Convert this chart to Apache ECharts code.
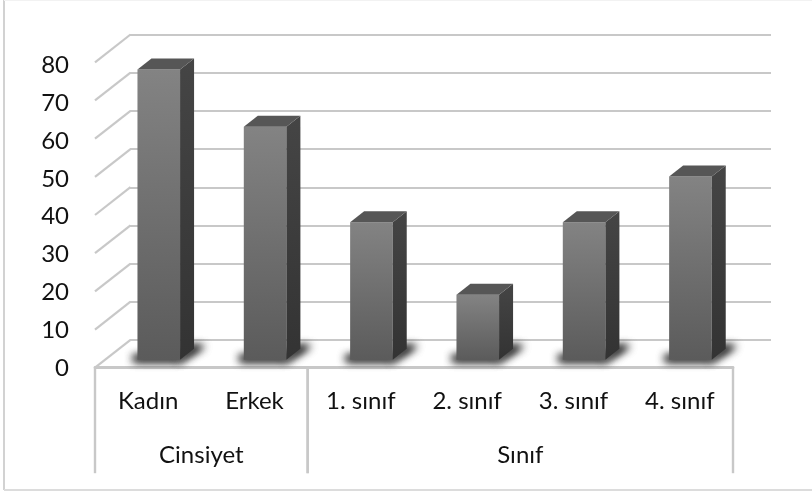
<!DOCTYPE html>
<html><head><meta charset="utf-8">
<style>html,body{margin:0;padding:0;background:#fff}#c{width:812px;height:494px}</style>
<script src="https://cdn.jsdelivr.net/npm/echarts@6/dist/echarts.min.js"></script>
</head><body><div id="c"></div>
<script>
const categories = ['Kadın','Erkek','1. sınıf','2. sınıf','3. sınıf','4. sınıf'];
const values = [76, 61, 36, 17, 36, 48];
const groupNames = ['Cinsiyet','Sınıf'];
const groupStart = [0, 2];
const groupSpan = [2, 4];
const ticks = [0,10,20,30,40,50,60,70,80];

const FONT = 'Lato';
const LINE = '#c8c8c8';
const chart = echarts.init(document.getElementById('c'), null, {renderer:'canvas', devicePixelRatio:1});
const DX = 10.6, DY = -8;      // bars stand mid-way in the floor depth
const BW = 42.6, BDX = 14, BDY = -11;
const OFF = 1500;              // the floor shadow is cast from a shape outside the canvas

function renderBar(p, api){
  const i = api.value(0), v = api.value(1);
  const top = api.coord([i, v]), base = api.coord([i, 0]);
  const l = top[0] + DX - BW/2, r = l + BW, t = top[1] + DY, b = base[1] + DY;
  const poly = (pts, fill, extra) => ({type:'polygon', shape:{points:pts}, style:Object.assign({fill}, extra||{})});
  const grad = (a, c) => new echarts.graphic.LinearGradient(0,0,0,1,[{offset:0,color:a},{offset:1,color:c}]);
  const cast = pts => poly(pts.map(q=>[q[0]-OFF,q[1]]), '#000', {shadowBlur:8, shadowColor:'#1a1a1a', shadowOffsetX:OFF});
  const wedge = [[r-4,b+1],[r+2,b+1],[r+25,b-14],[r+12,b-14]];
  const strip = [[l-4,b-4],[r,b-4],[r,b+1.5],[l-4,b+1.5]];
  return {type:'group', children:[
    cast(wedge), cast(wedge), cast(strip), cast(strip),
    poly([[l,t],[r,t],[r,b],[l,b]], grad('#838383','#5b5b5b')),
    poly([[r,t],[r+BDX,t+BDY],[r+BDX,b+BDY],[r,b]], grad('#454545','#333333')),
    poly([[l,t],[l+BDX,t+BDY],[r+BDX,t+BDY],[r,t]], '#565656')
  ]};
}
function renderDiag(p, api){
  const c = api.coord([0, api.value(1)]), w = api.size([1,0])[0], x = c[0] - w/2;
  return {type:'line', shape:{x1:x, y1:c[1], x2:x+35.5, y2:c[1]-27.8}, style:{stroke:LINE, lineWidth:2.2}};
}
function renderGroup(p, api){
  const s = api.value(0), n = api.value(1), name = groupNames[p.dataIndex];
  const c = api.coord([s, 0]), w = api.size([1,0])[0], x0 = c[0] - w/2, x1 = x0 + n*w, y = c[1];
  const sep = x => ({type:'line', shape:{x1:x, y1:y, x2:x, y2:y+105.5}, style:{stroke:LINE, lineWidth:2.4}});
  return {type:'group', children:[
    sep(x0), sep(x1),
    {type:'text', x:(x0+x1)/2, y:y+87.5, style:{text:name, align:'center', verticalAlign:'middle', font:'24px '+FONT, fill:'#111'}}
  ]};
}
chart.setOption({
  animation:false,
  backgroundColor:'#fff',
  grid:[
    {left:130, top:34.6, width:641, height:305.4},
    {left:95, top:62.3, width:638, height:305.4},
    {left:95, top:65, width:638, height:303.5}
  ],
  xAxis:[
    {gridIndex:0, type:'category', data:categories, show:false},
    {gridIndex:1, type:'category', data:categories, axisTick:{show:false},
     axisLine:{show:true, lineStyle:{color:LINE, width:2.8}},
     axisLabel:{interval:0, margin:22, fontFamily:FONT, fontSize:24, color:'#111'}},
    {gridIndex:2, type:'category', data:categories, show:false}
  ],
  yAxis:[
    {gridIndex:0, type:'value', min:0, max:80, interval:10, axisLabel:{show:false}, axisLine:{show:false}, axisTick:{show:false},
     splitLine:{show:true, lineStyle:{color:LINE, width:2.2}}},
    {gridIndex:1, type:'value', min:0, max:80, interval:10, axisLabel:{show:false}, axisLine:{show:false}, axisTick:{show:false}, splitLine:{show:false}},
    {gridIndex:2, type:'value', min:0, max:80, interval:10, axisLine:{show:false}, axisTick:{show:false}, splitLine:{show:false},
     axisLabel:{margin:26, fontFamily:FONT, fontSize:24, color:'#111'}}
  ],
  series:[
    {type:'custom', xAxisIndex:1, yAxisIndex:1, silent:true, z:1, renderItem:renderDiag, data:ticks.map(v=>[0,v]), encode:{x:0,y:1}},
    {type:'custom', xAxisIndex:1, yAxisIndex:1, silent:true, z:2, renderItem:renderGroup, data:groupStart.map((s,i)=>[s,groupSpan[i]]), encode:{x:0}},
    {type:'custom', xAxisIndex:1, yAxisIndex:1, silent:true, z:3, renderItem:renderBar, data:values.map((v,i)=>[i,v]), encode:{x:0,y:1}}
  ],
  graphic:[
    {type:'line', shape:{x1:4, y1:0, x2:4, y2:490}, style:{stroke:'#d2d2d2', lineWidth:2}, silent:true},
    {type:'line', shape:{x1:4, y1:490, x2:812, y2:490}, style:{stroke:'#dcdcdc', lineWidth:2}, silent:true},
    {type:'line', shape:{x1:4, y1:0.5, x2:812, y2:0.5}, style:{stroke:'#f2f2f2', lineWidth:1}, silent:true}
  ]
});
</script></body></html>
